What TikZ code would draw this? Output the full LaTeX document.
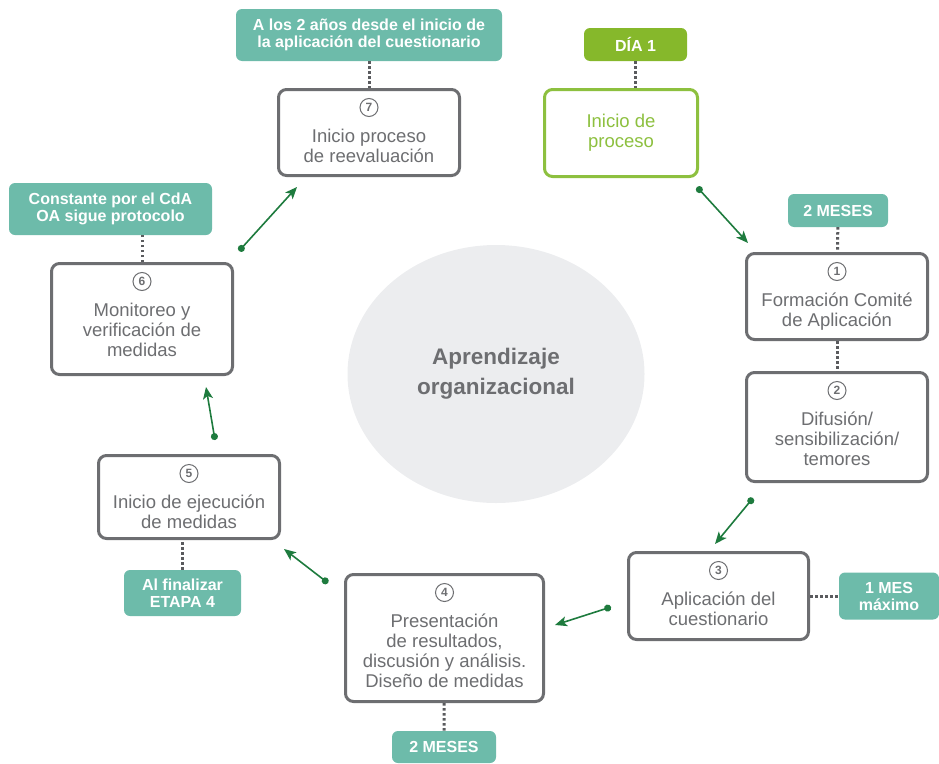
\documentclass[tikz,border=0pt]{standalone}
\usepackage{fontspec}
\setmainfont{Liberation Sans}
\usepackage{xcolor}
\usepackage{tikz}
\usetikzlibrary{positioning,arrows.meta,shapes.geometric}

\definecolor{stepgray}{HTML}{6D6E71}
\definecolor{dotgray}{HTML}{5A5B5E}
\definecolor{startgreen}{HTML}{8DC03F}
\definecolor{daygreen}{HTML}{86B82B}
\definecolor{tagteal}{HTML}{6DBBAA}
\definecolor{flowgreen}{HTML}{1E7B3E}
\definecolor{corefill}{HTML}{ECEDEF}

\begin{document}
\begin{tikzpicture}[
  x=1pt, y=-1pt,
  stepbox/.style={draw=stepgray, line width=3pt, rounded corners=8pt, fill=white, minimum width=181pt, minimum height=86pt},
  startbox/.style={stepbox, draw=startgreen, text=startgreen, align=center, font=\fontsize{18.5}{20}\selectfont},
  num/.style={circle, draw=stepgray, line width=1pt, minimum size=18pt, inner sep=0pt, text=stepgray, font=\bfseries\fontsize{12}{12}\selectfont},
  steptext/.style={text=stepgray, align=center, inner sep=0pt, font=\fontsize{18.5}{20}\selectfont},
  tag/.style={fill=tagteal, rounded corners=6pt, text=white, align=center, inner sep=0pt, font=\bfseries\fontsize{16}{17}\selectfont},
  daytag/.style={tag, fill=daygreen},
  dots/.style={draw=dotgray, line width=3pt, dash pattern=on 2.5pt off 2.5pt},
  flow/.style={draw=flowgreen, line width=1.6pt, {Circle[length=7pt]}-{Stealth[length=12pt,width=10pt,inset=3pt]}},
  core/.style={ellipse, fill=corefill, minimum width=297pt, minimum height=258pt, text=stepgray, align=center, font=\bfseries\fontsize{22.5}{30}\selectfont}
]

\useasboundingbox (0,0) rectangle (939,763);

% Centre
\node[core] (core) at (496,374) {Aprendizaje\\organizacional};

% Start
\node[daytag, minimum width=103pt, minimum height=33pt] (g0) at (635.5,44.5) {DÍA 1};
\node[startbox, minimum width=153pt, minimum height=87pt] (b0) at (621,133) {Inicio de\\proceso};
\draw[dots] (g0) -- (g0 |- b0.north);

% Step 1
\node[tag, minimum width=100pt, minimum height=33pt] (g1) at (838,210.5) {2 MESES};
\node[stepbox] (b1) at (837,296.5) {};
\node[num, below=10pt of b1.north] (n1) {1};
\node[steptext, below=12pt of n1] (t1) {Formación Comité\\de Aplicación};
\draw[dots] (g1) -- (b1);

% Step 2
\node[stepbox, minimum height=109pt] (b2) at (837,427) {};
\node[num, below=10pt of b2.north] (n2) {2};
\node[steptext, below=12pt of n2] (t2) {Difusión/\\sensibilización/\\temores};
\draw[dots] (b1) -- (b2);

% Step 3
\node[stepbox, minimum width=180pt, minimum height=87pt] (b3) at (718.5,596) {};
\node[num, below=10pt of b3.north] (n3) {3};
\node[steptext, below=12pt of n3] (t3) {Aplicación del\\cuestionario};
\node[tag, minimum width=100pt, minimum height=47pt] (g3) at (889,596) {1 MES\\máximo};
\draw[dots] (b3) -- (g3);

% Step 4
\node[stepbox, minimum width=198pt, minimum height=127pt] (b4) at (444.5,638) {};
\node[num, below=10pt of b4.north] (n4) {4};
\node[steptext, below=12pt of n4] (t4) {Presentación\\de resultados,\\discusión y análisis.\\Diseño de medidas};
\node[tag, minimum width=104pt, minimum height=32pt] (g4) at (444,747) {2 MESES};
\draw[dots] (b4) -- (g4);

% Step 5
\node[stepbox, minimum height=83pt] (b5) at (189,497) {};
\node[num, below=10pt of b5.north] (n5) {5};
\node[steptext, below=12pt of n5] (t5) {Inicio de ejecución\\de medidas};
\node[tag, minimum width=117pt, minimum height=46pt] (g5) at (182.5,593) {Al finalizar\\ETAPA 4};
\draw[dots] (g5) -- (g5 |- b5.south);

% Step 6
\node[tag, minimum width=203pt, minimum height=52pt] (g6) at (110.5,209) {Constante por el CdA\\OA sigue protocolo};
\node[stepbox, minimum height=111pt] (b6) at (142,319) {};
\node[num, below=10pt of b6.north] (n6) {6};
\node[steptext, below=12pt of n6] (t6) {Monitoreo y\\verificación de\\medidas};
\draw[dots] (b6.north) -- (b6.north |- g6.south);

% Step 7
\node[tag, minimum width=266pt, minimum height=52pt] (g7) at (369,35) {A los 2 años desde el inicio de\\la aplicación del cuestionario};
\node[stepbox] (b7) at (369,132.5) {};
\node[num, below=10pt of b7.north] (n7) {7};
\node[steptext, below=12pt of n7] (t7) {Inicio proceso\\de reevaluación};
\draw[dots] (g7) -- (b7);

% Flow between steps
\coordinate (f01a) at (697,187);
\coordinate (f01b) at (748,243);
\coordinate (f23a) at (753,498);
\coordinate (f23b) at (715,544);
\coordinate (f34a) at (611,607);
\coordinate (f34b) at (555,625);
\coordinate (f45a) at (328,583);
\coordinate (f45b) at (284,549);
\coordinate (f56a) at (215,440);
\coordinate (f56b) at (206,387);
\coordinate (f67a) at (239,251);
\coordinate (f67b) at (297,187);
\draw[flow] (f01a) -- (f01b);
\draw[flow] (f23a) -- (f23b);
\draw[flow] (f34a) -- (f34b);
\draw[flow] (f45a) -- (f45b);
\draw[flow] (f56a) -- (f56b);
\draw[flow] (f67a) -- (f67b);

\end{tikzpicture}
\end{document}
